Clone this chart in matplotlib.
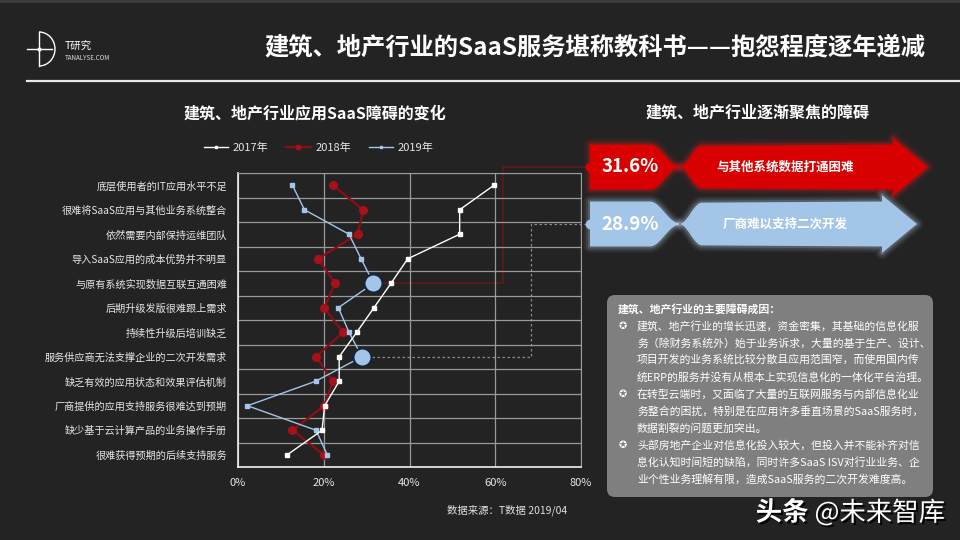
import numpy as np
import matplotlib
matplotlib.use("Agg")
import matplotlib.pyplot as plt
from matplotlib.patches import Polygon, FancyBboxPatch, Arc
import matplotlib.patheffects as pe

plt.rcParams['font.family'] = ['Noto Sans CJK SC', 'DejaVu Sans']
plt.rcParams['axes.unicode_minus'] = False

# 数据
categories = ['底层使用者的IT应用水平不足', '很难将SaaS应用与其他业务系统整合', '依然需要内部保持运维团队',
              '导入SaaS应用的成本优势并不明显', '与原有系统实现数据互联互通困难', '后期升级发版很难跟上需求',
              '持续性升级后培训缺乏', '服务供应商无法支撑企业的二次开发需求', '缺乏有效的应用状态和效果评估机制',
              '厂商提供的应用支持服务很难达到预期', '缺少基于云计算产品的业务操作手册', '很难获得预期的后续支持服务']
v2017 = [59.7, 51.7, 51.7, 39.6, 35.7, 31.7, 27.7, 23.6, 23.6, 20.2, 19.6, 11.5]
v2018 = [22.1, 29.2, 27.9, 18.6, 22.7, 20.1, 24.5, 18.2, 22.1, 20.1, 12.7, 20.0]
v2019 = [12.7, 15.5, 25.9, 28.7, 31.6, 23.4, 25.9, 28.9, 18.1, 2.2, 18.2, 20.8]
years = ['2017年', '2018年', '2019年']
focus_idx = [4, 7]          # 重点障碍所在行
focus_names = ['与其他系统数据打通困难', '厂商难以支持二次开发']
xticks = [0, 20, 40, 60, 80]

BG = '#232323'
RED = '#D80000'
BLUE = '#A3C5E8'

fig = plt.figure(figsize=(9.6, 5.4), dpi=100, facecolor=BG)

# 装饰层（像素坐标）
deco = fig.add_axes([0, 0, 1, 1], zorder=0)
deco.set_xlim(0, 960)
deco.set_ylim(540, 0)
deco.axis('off')
deco.set_facecolor(BG)

deco.add_patch(plt.Rectangle((0, 0), 960, 3, color='#3c3c3c', lw=0))
deco.plot([27, 960], [81, 81], color='#e8e8e8', lw=1.6)

# logo
deco.plot([39, 39], [32, 66], color='white', lw=1)
deco.add_patch(Arc((39, 49), 32, 34, theta1=-90, theta2=90, color='white', lw=1))
deco.plot([27, 52], [48.5, 48.5], color='white', lw=1)
deco.plot(39, 48.5, 'o', color='white', ms=2)
deco.text(65, 47, 'T研究', color='white', fontsize=7.5, va='center')
deco.text(65, 58, 'TANALYSE.COM', color='#dddddd', fontsize=4.5, va='center')

deco.text(925, 48, '建筑、地产行业的SaaS服务堪称教科书——抱怨程度逐年递减', color='white',
          fontsize=17.5, fontweight='bold', ha='right', va='center')
deco.text(315, 113, '建筑、地产行业应用SaaS障碍的变化', color='white', fontsize=11.5,
          fontweight='bold', ha='center', va='center')
deco.text(758, 113, '建筑、地产行业逐渐聚焦的障碍', color='white', fontsize=11.5,
          fontweight='bold', ha='center', va='center')

# 主图
ax = fig.add_axes([238 / 960, 73 / 540, 343 / 960, 294 / 540], zorder=2)
ax.set_facecolor('none')
y = np.arange(len(categories))
ax.plot(v2018, y, color='#8e0d14', lw=1.6, marker='o', ms=5.5, mfc='#a8101a', mec='#a8101a', zorder=3, label=years[1])
ax.plot(v2019, y, color=BLUE, lw=1, marker='s', ms=3.5, mfc=BLUE, mec=BLUE, zorder=4, label=years[2])
ax.plot(v2017, y, color='white', lw=1, marker='s', ms=3.5, mfc='white', mec='white', zorder=5, label=years[0])
for i in focus_idx:
    ax.plot(v2019[i], i, 'o', ms=13, mfc=BLUE, mec='#15253a', mew=1.5, zorder=6)

ax.set_xlim(0, 80)
ax.set_ylim(len(categories) - 0.5, -0.5)
ax.set_xticks(xticks)
ax.set_xticklabels([f'{t}%' for t in xticks], color='#e6e6e6', fontsize=8)
ax.set_yticks(y)
ax.set_yticklabels(categories, color='#e6e6e6', fontsize=7.3)
ax.set_yticks(np.arange(-0.5, len(categories), 1), minor=True)
ax.tick_params(axis='both', length=0, which='both')
ax.tick_params(axis='x', pad=8)
ax.tick_params(axis='y', pad=8)
ax.grid(axis='x', color='#9a9a9a', lw=0.9)
ax.grid(axis='y', which='minor', color='#9a9a9a', lw=0.9)
ax.grid(axis='y', which='major', visible=False)
for s in ['top', 'right']:
    ax.spines[s].set_color('#9a9a9a')
for s in ['left', 'bottom']:
    ax.spines[s].set_color('#f0f0f0')
    ax.spines[s].set_linewidth(1.2)

h, l = ax.get_legend_handles_labels()
order = [2, 0, 1]
leg = ax.legend([h[i] for i in order], [l[i] for i in order], ncol=3, frameon=False,
                loc='center', bbox_to_anchor=(0.235, 1.085), fontsize=8, labelcolor='#e6e6e6',
                handlelength=2.2, columnspacing=1.6, handletextpad=0.4, markerscale=0.6)

# 连接线
fig.canvas.draw()
def to_px(xv, yv):
    dx, dy = ax.transData.transform((xv, yv))
    return dx, 540 - dy

cy = [167, 224]
for k, i in enumerate(focus_idx):
    px, py = to_px(v2019[i], i)
    if k == 0:
        deco.plot([px, 503, 503, 590], [py, py, cy[k], cy[k]], color='#5e1a1a', lw=1.2, zorder=1)
    else:
        deco.plot([px, 531, 531, 590], [py, py, cy[k], cy[k]], color='#8a8a8a', lw=0.9, ls=(0, (2, 2)), zorder=1)

# 右侧箭头
def shape(cy, x0, x1, xp, x2, xh, xt, hh, ah):
    t = np.linspace(0, 1, 20)
    left_top = [(x0, cy - hh), (x1, cy - hh)] + [(x1 + (xp - x1) * s, cy - hh + hh * 0.95 * (1 - np.cos(np.pi * s)) / 2) for s in t]
    left = left_top + [(px_, 2 * cy - py_) for px_, py_ in left_top[::-1]]
    right_top = [(xp + (x2 - xp) * s, cy - hh * 0.95 * (1 - np.cos(np.pi * s)) / 2) for s in t]
    right = [(xp + 2, cy)] + right_top[1:] + [(xh, cy - hh), (xh, cy - ah), (xt, cy), (xh, cy + ah), (xh, cy + hh)] + \
            [(px_, 2 * cy - py_) for px_, py_ in right_top[::-1][:-1]]
    return left, right

tips = [928, 917]
colors = [RED, BLUE]
glow = ['#ff2020', '#cfe4ff']
labels = [f'{v2019[i]:.1f}%' for i in focus_idx]
for k in range(2):
    left, right = shape(cy[k], 590, 650, 679, 702, tips[k] - 35, tips[k], 22.5, 29)
    for poly in (left, right):
        for lw, a in [(9, 0.06), (6, 0.1), (3, 0.18)]:
            deco.add_patch(Polygon(poly, closed=True, fc='none', ec=glow[k], lw=lw, alpha=a, joinstyle='round', zorder=2))
        deco.add_patch(Polygon(poly, closed=True, fc=colors[k], ec='none', zorder=3))
    deco.plot(590, cy[k], 'o', color=colors[k], ms=6, zorder=4)
    deco.text(630, cy[k], labels[k], color='white', fontsize=13.5, fontweight='bold', ha='center', va='center', zorder=5)
    deco.text(785, cy[k], focus_names[k], color='white', fontsize=9, fontweight='bold', ha='center', va='center', zorder=5)

# 文本框
deco.add_patch(FancyBboxPatch((609, 297), 322, 198, boxstyle='round,pad=2,rounding_size=8',
                              fc='#7f7f7f', ec='none', zorder=2))
deco.text(618, 309, '建筑、地产行业的主要障碍成因：', color='white', fontsize=7.8, fontweight='bold', va='center', zorder=3)
bullets = [
    ['建筑、地产行业的增长迅速，资金密集，其基础的信息化服',
     '务（除财务系统外）始于业务诉求，大量的基于生产、设计、',
     '项目开发的业务系统比较分散且应用范围窄，而使用国内传',
     '统ERP的服务并没有从根本上实现信息化的一体化平台治理。'],
    ['在转型云端时，又面临了大量的互联网服务与内部信息化业',
     '务整合的困扰，特别是在应用许多垂直场景的SaaS服务时，',
     '数据割裂的问题更加突出。'],
    ['头部房地产企业对信息化投入较大，但投入并不能补齐对信',
     '息化认知时间短的缺陷，同时许多SaaS ISV对行业业务、企',
     '业个性业务理解有限，造成SaaS服务的二次开发难度高。'],
]
yy = 326
for b in bullets:
    deco.text(623, yy, '✪', color='white', fontsize=7, ha='center', va='center', zorder=3,
              family=['DejaVu Sans'])
    for line in b:
        deco.text(637, yy, line, color='white', fontsize=7.8, va='center', zorder=3)
        yy += 17

deco.text(447, 510, '数据来源：T数据 2019/04', color='#e0e0e0', fontsize=7.5, va='center')
shadow = [pe.withSimplePatchShadow(offset=(1.5, -1.5), shadow_rgbFace='black', alpha=0.9)]
wm = deco.text(945, 513, '@未来智库', color='white', fontsize=19, ha='right', va='center', path_effects=shadow)
fig.canvas.draw()
bb = wm.get_window_extent()
deco.text(bb.x0 * 960 / fig.bbox.width - 6, 513, '头条', color='white', fontsize=19, fontweight='bold',
          ha='right', va='center', path_effects=shadow)

fig.savefig('out.png', dpi=100, facecolor=BG)
